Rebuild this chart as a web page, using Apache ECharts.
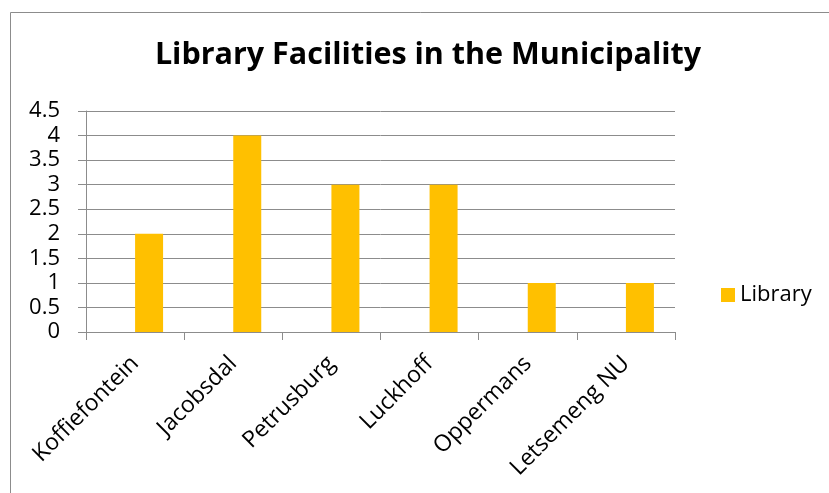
<!DOCTYPE html>
<html>
<head>
<meta charset="utf-8">
<script src="https://cdn.jsdelivr.net/npm/echarts@6/dist/echarts.min.js"></script>
<style>
  html, body { margin: 0; padding: 0; background: #fff; }
  #chart { width: 829px; height: 493px; }
</style>
</head>
<body>
<div id="chart"></div>
<script>
// Towns and the number of library facilities in each
const towns = ['Koffiefontein', 'Jacobsdal', 'Petrusburg', 'Luckhoff', 'Oppermans', 'Letsemeng NU'];
const libraryCounts = [2, 4, 3, 3, 1, 1];
const seriesName = 'Library';
const titleText = 'Library Facilities in the Municipality';

const FONT = '"Open Sans", sans-serif';
const AXIS_GREY = '#8c8c8c';
const chart = echarts.init(document.getElementById('chart'));

chart.setOption({
  animation: false,
  backgroundColor: '#fff',
  title: {
    text: titleText,
    left: 423,
    textAlign: 'center',
    top: 35,
    textStyle: { fontFamily: FONT, fontWeight: 'bold', fontSize: 30.5, color: '#000' }
  },
  legend: {
    left: 716,
    top: 279,
    itemWidth: 14,
    itemHeight: 14,
    itemGap: 8,
    icon: 'rect',
    textStyle: { fontFamily: FONT, fontSize: 22, color: '#000' },
    data: [seriesName]
  },
  grid: { left: 86, right: 154, top: 111, bottom: 161, containLabel: false },
  xAxis: {
    type: 'category',
    data: towns,
    boundaryGap: true,
    axisLine: { lineStyle: { color: AXIS_GREY, width: 1 } },
    axisTick: { show: true, length: 8, alignWithLabel: false, lineStyle: { color: AXIS_GREY } },
    axisLabel: { rotate: 45, margin: 28, fontFamily: FONT, fontSize: 23, color: '#000', interval: 0 }
  },
  yAxis: {
    type: 'value',
    min: 0,
    max: 4.5,
    interval: 0.5,
    axisLine: { show: true, lineStyle: { color: AXIS_GREY, width: 1 } },
    axisTick: { show: true, length: 8, lineStyle: { color: AXIS_GREY } },
    splitLine: { show: true, lineStyle: { color: AXIS_GREY, width: 1 } },
    axisLabel: { margin: 26, fontFamily: FONT, fontSize: 22, color: '#000' }
  },
  series: [
    {
      // empty companion slot: keeps the Library bar on the right half of each category
      name: '',
      type: 'bar',
      data: towns.map(() => null),
      barWidth: 28,
      barGap: '0%',
      silent: true
    },
    {
      name: seriesName,
      type: 'bar',
      data: libraryCounts,
      barWidth: 28,
      barGap: '0%',
      itemStyle: { color: '#FFC000' }
    }
  ],
  graphic: [{
    type: 'rect',
    shape: { x: 10.5, y: 12.5, width: 840, height: 500 },
    style: { fill: 'none', stroke: AXIS_GREY, lineWidth: 1 },
    silent: true,
    z: -1
  }]
});
</script>
</body>
</html>
